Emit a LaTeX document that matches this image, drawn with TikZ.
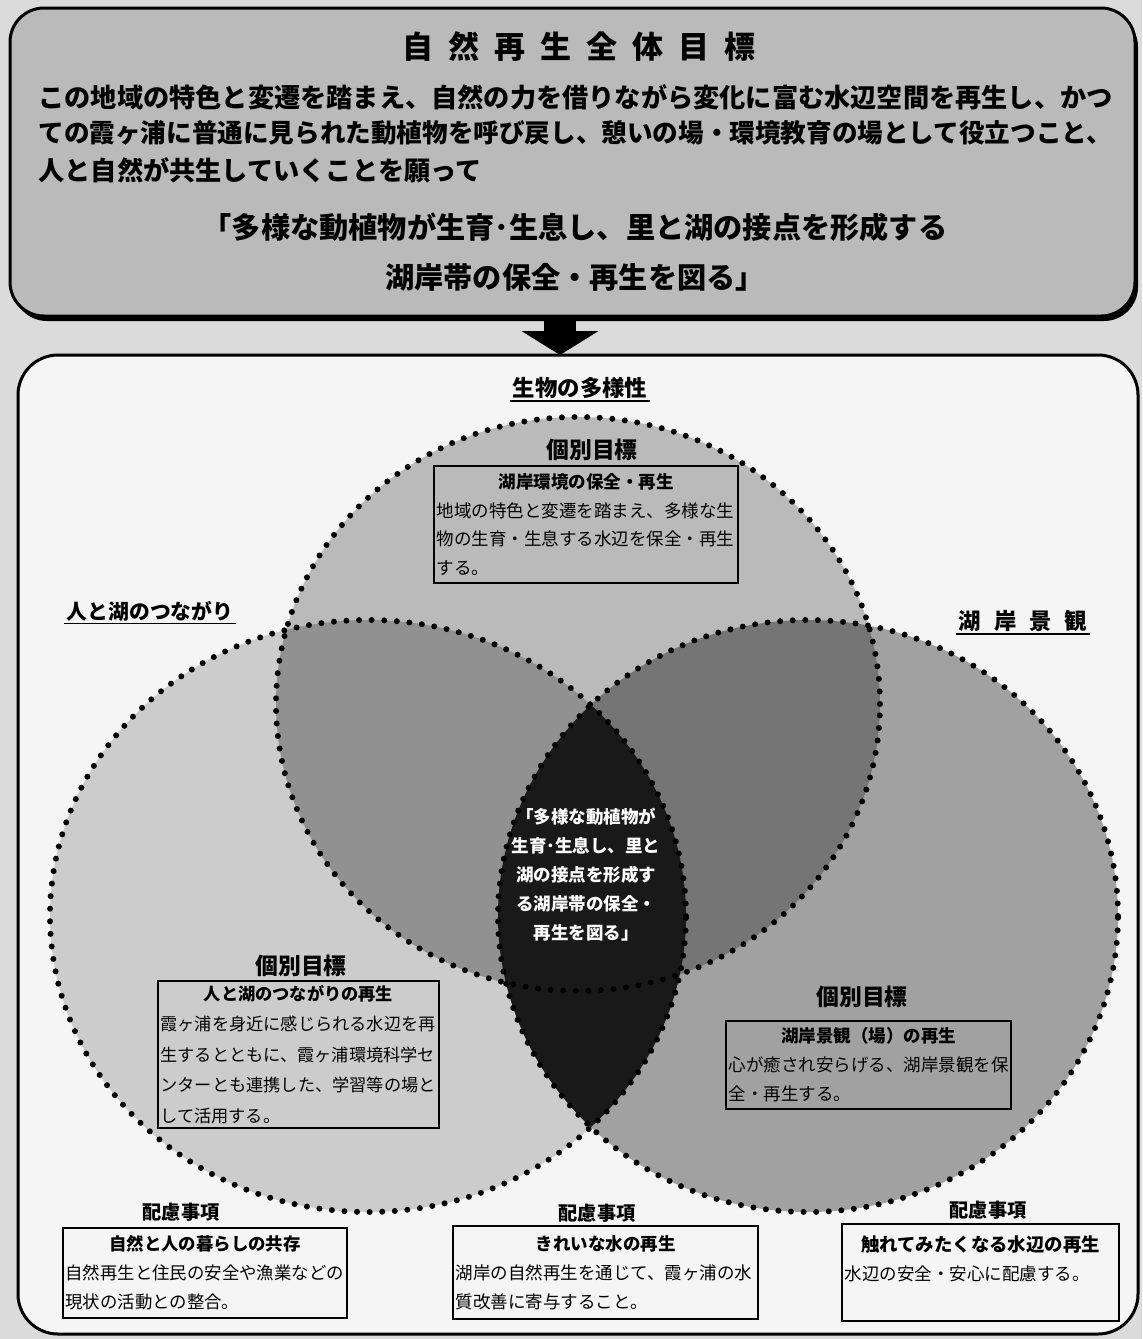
\documentclass[tikz,border=0pt]{standalone}
\usepackage{fontspec}
\setmainfont{Noto Sans CJK JP}
\usetikzlibrary{arrows.meta,shadows}
\definecolor{pagebg}{gray}{0.86}
\definecolor{topfill}{gray}{0.73}
\definecolor{botfill}{gray}{0.96}
\definecolor{cLeft}{gray}{0.80}
\definecolor{cTop}{gray}{0.73}
\definecolor{cRight}{gray}{0.63}
\definecolor{cTL}{gray}{0.57}
\definecolor{cTR}{gray}{0.46}
\definecolor{cLens}{gray}{0.10}
\begin{document}
\begin{tikzpicture}[x=0.5pt,y=-0.5pt,
  every node/.style={inner sep=1pt},
  lab/.style={font=\fontsize{11.2pt}{13pt}\selectfont\bfseries},
  goal/.style={font=\fontsize{11.4pt}{13pt}\selectfont\bfseries},
  notelab/.style={font=\fontsize{9.6pt}{12pt}\selectfont\bfseries},
  ibox/.style={draw=black, line width=1pt, align=left, anchor=north west, inner xsep=1.25pt, inner ysep=2pt},
  dotline/.style={draw=black, line width=3pt, line cap=round, dash pattern=on 0pt off 6.3pt},
  uline/.style={line width=0.9pt},
  bodyline/.style={anchor=west, font=\bfseries},
]
\useasboundingbox (0,0) rectangle (1142,1339);
\fill[pagebg] (0,0) rectangle (1142,1339);

% ---------- top box ----------
\node[draw=black, line width=1.5pt, fill=topfill, rounded corners=17pt,
      minimum width=562.5pt, minimum height=154pt,
      drop shadow={shadow xshift=1.5pt, shadow yshift=-2.5pt, opacity=1, fill=black}]
      (topBox) at (572.5,162) {};
\node[font=\fontsize{15.5pt}{18pt}\selectfont\bfseries] (title) at (579,47)
  {自\hspace{7.5pt}然\hspace{7.5pt}再\hspace{7.5pt}生\hspace{7.5pt}全\hspace{7.5pt}体\hspace{7.5pt}目\hspace{7.5pt}標};
\node[bodyline, font=\fontsize{13.1pt}{15pt}\selectfont\bfseries] (body1) at (36,97)
  {この地域の特色と変遷を踏まえ、自然の力を借りながら変化に富む水辺空間を再生し、かつ};
\node[bodyline, font=\fontsize{12.8pt}{15pt}\selectfont\bfseries] (body2) at (36,133)
  {ての霞ヶ浦に普通に見られた動植物を呼び戻し、憩いの場・環境教育の場として役立つこと、};
\node[bodyline, font=\fontsize{13.1pt}{15pt}\selectfont\bfseries] (body3) at (36,170)
  {人と自然が共生していくことを願って};
\node[font=\fontsize{14.6pt}{17pt}\selectfont\bfseries] (quote1) at (575,227)
  {「多様な動植物が生育･生息し、里と湖の接点を形成する};
\node[font=\fontsize{14.6pt}{17pt}\selectfont\bfseries] (quote2) at (575,277)
  {湖岸帯の保全・再生を図る」};

% ---------- bottom box ----------
\node[draw=black, line width=1.5pt, fill=botfill, rounded corners=20pt,
      minimum width=560pt, minimum height=489.5pt] (botBox) at (578,844.5) {};

% ---------- arrow ----------
\coordinate (arrS) at (560,317);
\coordinate (arrE) at (560,355);
\draw[line width=16pt, -{Triangle[length=12pt,width=38pt]}] (arrS) -- (arrE);

% ---------- circles ----------
\fill[cLeft]  (368,916) ellipse [x radius=159pt, y radius=148pt];
\fill[cRight] (808,916) ellipse [x radius=155pt, y radius=148pt];
\fill[cTop]   (578,704) ellipse [x radius=151pt, y radius=143.5pt];
\begin{scope}
  \clip (578,704) ellipse [x radius=151pt, y radius=143.5pt];
  \fill[cTL] (368,916) ellipse [x radius=159pt, y radius=148pt];
  \fill[cTR] (808,916) ellipse [x radius=155pt, y radius=148pt];
\end{scope}
\begin{scope}
  \clip (368,916) ellipse [x radius=159pt, y radius=148pt];
  \fill[cLens] (808,916) ellipse [x radius=155pt, y radius=148pt];
\end{scope}
\draw[dotline] (368,916) ellipse [x radius=159pt, y radius=148pt];
\draw[dotline] (808,916) ellipse [x radius=155pt, y radius=148pt];
\draw[dotline] (578,704) ellipse [x radius=151pt, y radius=143.5pt];

% ---------- circle labels ----------
\node[lab] (lbBio) at (580,388) {生物の多様性};
\draw[uline] (lbBio.south west) -- (lbBio.south east);
\node[lab, font=\fontsize{10.4pt}{13pt}\selectfont\bfseries] (lbHuman) at (150,611) {人と湖のつながり};
\draw[uline] (lbHuman.south west) -- (lbHuman.south east);
\node[lab] (lbScene) at (1023,621) {湖\hspace{6.5pt}岸\hspace{6.5pt}景\hspace{6.5pt}観};
\draw[uline] (lbScene.south west) -- (lbScene.south east);

% ---------- individual goals ----------
\node[goal] (goalT) at (592,450) {個別目標};
\node[ibox, text width=149.5pt, minimum height=58.5pt,
      font=\fontsize{8.75pt}{14.3pt}\selectfont] (boxT) at (433,465)
  {\makebox[149.5pt]{\bfseries 湖岸環境の保全・再生}\\地域の特色と変遷を踏まえ、多様な生\\物の生育・生息する水辺を保全・再生\\する。};

\node[goal] (goalL) at (301,966) {個別目標};
\node[ibox, text width=138pt, minimum height=73.5pt,
      font=\fontsize{8.6pt}{15.2pt}\selectfont] (boxL) at (157,980)
  {\makebox[138pt]{\bfseries 人と湖のつながりの再生}\\霞ヶ浦を身近に感じられる水辺を再\\生するとともに、霞ヶ浦環境科学セ\\ンターとも連携した、学習等の場と\\して活用する。};

\node[goal] (goalR) at (862,997) {個別目標};
\node[ibox, text width=140pt, minimum height=44pt,
      font=\fontsize{8.75pt}{14.5pt}\selectfont] (boxR) at (725,1020)
  {\makebox[140pt]{\bfseries 湖岸景観（場）の再生}\\心が癒され安らげる、湖岸景観を保\\全・再生する。};

% ---------- centre text ----------
\node[text=white, align=center, font=\fontsize{8.75pt}{14.5pt}\selectfont\bfseries] (lensText) at (586,875)
  {「多様な動植物が\\生育･生息し、里と\\湖の接点を形成す\\る湖岸帯の保全・\\再生を図る」};

% ---------- considerations ----------
\node[notelab] (noteL) at (181,1212) {配慮事項};
\node[notelab] (noteM) at (597,1213) {配慮事項};
\node[notelab] (noteR) at (988,1210) {配慮事項};
\node[ibox, text width=139.5pt, minimum height=45pt,
      font=\fontsize{8.7pt}{14.5pt}\selectfont] (boxNL) at (62,1227)
  {\makebox[139.5pt]{\bfseries 自然と人の暮らしの共存}\\自然再生と住民の安全や漁業などの\\現状の活動との整合。};
\node[ibox, text width=150pt, minimum height=46.5pt,
      font=\fontsize{8.75pt}{14.5pt}\selectfont] (boxNM) at (452,1225)
  {\makebox[150pt]{\bfseries きれいな水の再生}\\湖岸の自然再生を通じて、霞ヶ浦の水\\質改善に寄与すること。};
\node[ibox, text width=136pt, minimum height=48.5pt,
      font=\fontsize{8.75pt}{14.5pt}\selectfont] (boxNR) at (841,1223)
  {\makebox[136pt]{\fontsize{9.2pt}{14.5pt}\selectfont\bfseries 触れてみたくなる水辺の再生}\\水辺の安全・安心に配慮する。\\\mbox{}};
\end{tikzpicture}
\end{document}
